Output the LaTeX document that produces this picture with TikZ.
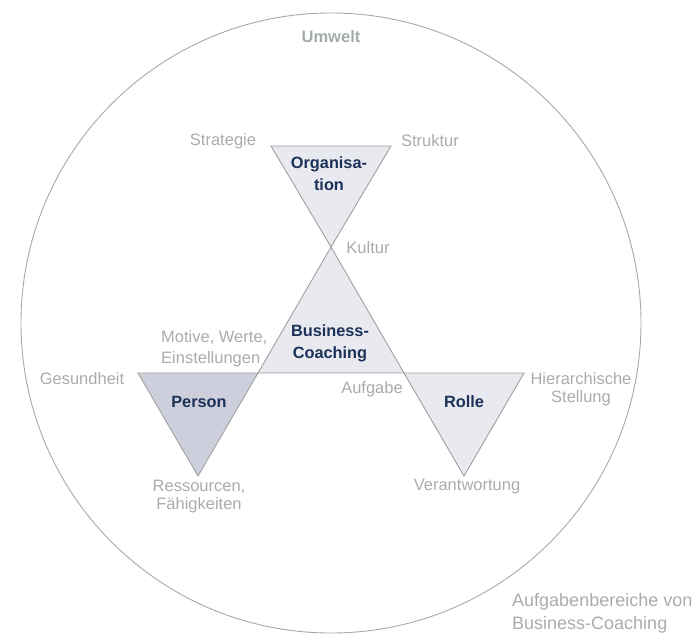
\documentclass[tikz,border=0pt]{standalone}
\usepackage{fontspec}
\setmainfont{Liberation Sans}
\definecolor{labgray}{HTML}{ABABAB}
\definecolor{ringgray}{HTML}{A3AAAA}
\definecolor{edgegray}{HTML}{A0A0A0}
\definecolor{navy}{HTML}{1B3158}
\definecolor{lightfill}{HTML}{E9EAF0}
\definecolor{darkfill}{HTML}{CDD0DC}
\begin{document}
\begin{tikzpicture}[x=1pt,y=-1pt,
  lab/.style={text=labgray,font=\fontsize{16.5}{21}\selectfont,inner sep=0pt},
  title/.style={text=navy,font=\bfseries\fontsize{16.3}{22}\selectfont,inner sep=0pt,align=center},
  tri/.style={draw=edgegray,line width=0.9pt,line join=miter},
  ring/.style={draw=ringgray,line width=0.9pt}]
\useasboundingbox (0,0) rectangle (696,635);
% circle
\node[ring,circle,minimum size=620pt,inner sep=0pt] (umwelt) at (331,323) {};
% key points
\coordinate (A) at (331,247);
\coordinate (L) at (258,373);
\coordinate (R) at (404,373);
\coordinate (O1) at (271,146);
\coordinate (O2) at (391,146);
\coordinate (P1) at (138,373);
\coordinate (P3) at (198,476);
\coordinate (R2) at (524,373);
\coordinate (R3) at (464,476);
% triangles
\path[tri,fill=lightfill] (O1) -- (O2) -- (A) -- cycle;
\path[tri,fill=lightfill] (A) -- (R) -- (L) -- cycle;
\path[tri,fill=darkfill] (P1) -- (L) -- (P3) -- cycle;
\path[tri,fill=lightfill] (R) -- (R2) -- (R3) -- cycle;
% titles
\node[text=ringgray,font=\bfseries\fontsize{16.5}{20}\selectfont,inner sep=0pt] (umw) at (331,37) {Umwelt};
\node[title] (org) at (329,174) {Organisa-\\tion};
\node[title] (bc) at (330,343) {Business-\\Coaching};
\node[title] (pers) at (199,402) {Person};
\node[title] (rolle) at (464,402) {Rolle};
% labels
\node[lab] (strat) at (223,141) {Strategie};
\node[lab] (struk) at (430,141) {Struktur};
\node[lab] (kult) at (368,248) {Kultur};
\node[lab,align=left,anchor=west] (mot) at (161,349) {Motive, Werte,\\Einstellungen};
\node[lab] (ges) at (82,379) {Gesundheit};
\node[lab] (aufg) at (372,389) {Aufgabe};
\node[lab,align=center,font=\fontsize{16.5}{18}\selectfont] (hier) at (581,389) {Hierarchische\\Stellung};
\node[lab] (ver) at (467,487) {Verantwortung};
\node[lab,align=center,font=\fontsize{16.5}{18}\selectfont] (res) at (199,497) {Ressourcen,\\Fähigkeiten};
\node[lab,align=left,anchor=west,font=\fontsize{18}{23}\selectfont] (cap) at (512,613) {Aufgabenbereiche von\\Business-Coaching};
\end{tikzpicture}
\end{document}
